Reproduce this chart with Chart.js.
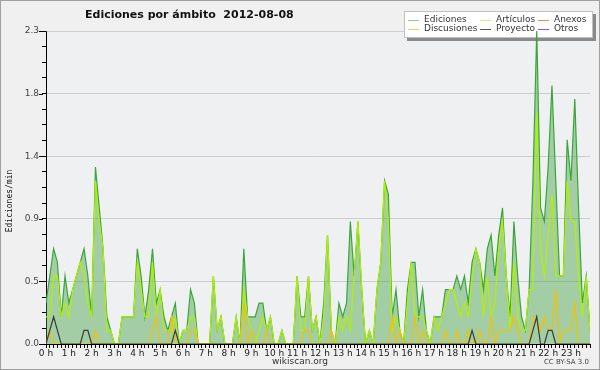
<!DOCTYPE html>
<html>
<head>
<meta charset="utf-8">
<script src="https://cdn.jsdelivr.net/npm/chart.js@4.4.0/dist/chart.umd.min.js"></script>
<style>
  html, body { margin: 0; padding: 0; background: #f0f0f0; }
  #wrap { width: 600px; height: 370px; }
</style>
</head>
<body>
<div id="wrap"><canvas id="chart" width="600" height="370"></canvas></div>
<script>
// edits per minute, one value per 10-minute slot (6 per hour)
const ediciones = [
  0.3,0.5,0.7,0.6,0.2,0.5,  0.3,0.4,0.5,0.6,0.7,0.5,  0.2,1.3,1.0,0.7,0.2,0.1,
  0,0,0.2,0.2,0.2,0.2,      0.7,0.5,0.2,0.4,0.7,0.3,  0.4,0.2,0.1,0.2,0.3,0,
  0.1,0.1,0.4,0.3,0,0,      0,0,0.5,0.1,0.2,0,        0,0,0.2,0,0.7,0.2,
  0.2,0.2,0.3,0.3,0.1,0.2,  0,0,0.1,0,0,0,            0.5,0.2,0.2,0.5,0.1,0.2,
  0,0.3,0.8,0.1,0,0.3,      0.2,0.3,0.9,0.5,0.9,0.4,  0,0.1,0,0.4,0.6,1.2,
  1.1,0.2,0.4,0.1,0,0.4,    0.6,0.6,0.2,0.4,0.1,0,    0.2,0.2,0.2,0.4,0.4,0.4,
  0.5,0.4,0.5,0.3,0.6,0.7,  0.6,0.4,0.7,0.8,0.5,0.8,  1.0,0.5,0.2,0.9,0.5,0.2,
  0.1,0.4,1.2,2.3,1.0,0.9,  1.3,1.9,1.2,0.5,0.5,1.5,  1.2,1.8,1.0,0.3,0.5,0.1
];
const articulos = [
  0.2,0.2,0.5,0.5,0.2,0.3,  0.2,0.4,0.5,0.6,0.5,0.3,  0.2,1.2,0.9,0.7,0.1,0.1,
  0,0,0.2,0.2,0.2,0.2,      0.6,0.4,0.2,0.2,0.6,0.2,  0.4,0.1,0.1,0.1,0.2,0,
  0.1,0.1,0.2,0.2,0,0,      0,0,0.5,0.1,0.2,0,        0,0,0.2,0,0.4,0.2,
  0.1,0,0.1,0.2,0.1,0.2,    0,0,0.1,0,0,0,            0.5,0.1,0.1,0.5,0.1,0.2,
  0,0.2,0.8,0.1,0,0.2,      0.1,0.2,0.1,0.5,0.9,0.4,  0,0.1,0,0.4,0.6,1.2,
  0.9,0.1,0.2,0.1,0,0.3,    0.6,0.2,0.2,0.2,0.1,0,    0.2,0.1,0.2,0.3,0.4,0.4,
  0.3,0.2,0.3,0.2,0.5,0.7,  0.6,0.2,0.5,0.2,0.3,0.7,  0.9,0.5,0.1,0.6,0.2,0.1,
  0.1,0.4,0.4,1.7,0.7,0.5,  0.8,1.1,0.5,0.5,0.5,1.2,  0.9,0.9,0.5,0.2,0.5,0.1
];
const discusiones = [
  0,0.1,0,0,0,0,            0,0,0,0,0,0,              0,0.1,0,0,0,0,
  0,0,0,0,0,0,              0,0,0,0,0.1,0.2,          0,0,0,0.2,0,0,
  0,0,0.1,0.1,0,0,          0,0,0,0,0,0,              0,0,0,0,0.3,0,
  0.1,0,0,0,0.1,0,          0,0,0,0,0,0,              0,0,0.1,0.1,0,0,
  0,0,0,0.1,0,0,            0,0,0,0,0,0,              0,0,0,0,0,0,
  0,0.2,0,0.1,0,0,          0,0.2,0,0.1,0,0,          0,0,0,0.1,0,0,
  0.1,0,0,0.1,0,0,          0.1,0,0,0.2,0,0.1,        0.1,0.1,0.1,0.2,0.1,0,
  0,0,0.2,0.2,0.1,0.2,      0.1,0.1,0.4,0,0.1,0.1,    0.1,0.3,0,0,0,0
];
const proyecto = [
  0,0.1,0.2,0.1,0,0,        0,0,0,0,0.1,0.1,          0,0,0,0,0,0,
  0,0,0,0,0,0,              0,0,0,0,0,0,              0,0,0,0,0.1,0,
  0,0,0,0,0,0,              0,0,0,0,0,0,              0,0,0,0,0,0,
  0,0,0,0,0,0,              0,0,0,0,0,0,              0,0,0,0,0,0,
  0,0,0,0,0,0,              0,0,0,0,0,0,              0,0,0,0,0,0,
  0,0,0,0,0,0,              0,0,0,0,0,0,              0,0,0,0,0,0,
  0,0,0,0,0.1,0,            0,0,0,0,0,0,              0,0,0,0,0,0,
  0,0,0.1,0.2,0,0,          0.1,0.1,0,0,0,0,          0,0,0,0,0,0
];
const anexos = [];  // nothing visible
const otros = [];   // nothing visible

const hourLabels = ['0 h','1 h','2 h','3 h','4 h','5 h','6 h','7 h','8 h','9 h','10 h','11 h',
  '12 h','13 h','14 h','15 h','16 h','17 h','18 h','19 h','20 h','21 h','22 h','23 h'];
const yTickLabels = ['0.0','0.5','0.9','1.4','1.8','2.3'];
const yMax = 2.3;

const slots = ediciones.map((_, i) => i);
const gridColor = 'rgba(140,140,140,0.35)';

// background, plot area, outer frame, texts
const frame = {
  id: 'frame',
  beforeDraw(chart) {
    const c = chart.ctx, a = chart.chartArea;
    c.save();
    c.fillStyle = '#f0f0f0';
    c.fillRect(0, 0, chart.width, chart.height);
    c.fillStyle = '#eef0f2';
    c.fillRect(a.left, a.top, a.right - a.left, a.bottom - a.top);
    c.restore();
  },
  afterDraw(chart) {
    const c = chart.ctx;
    const y = chart.scales.y;
    c.save();
    c.strokeStyle = '#a0a0a0';
    c.lineWidth = 1;
    c.strokeRect(0.5, 0.5, chart.width - 1, chart.height - 1);

    // longer marks for the labelled y ticks
    c.strokeStyle = '#000';
    y.ticks.forEach((t, i) => {
      if (i % 4 !== 0) return;
      const py = Math.round(y.getPixelForValue(t.value)) + 0.5;
      c.beginPath();
      c.moveTo(y.right - 7, py);
      c.lineTo(y.right - 3, py);
      c.stroke();
    });

    c.fillStyle = '#111';
    c.font = 'bold 11px "DejaVu Sans"';
    c.textBaseline = 'middle';
    c.textAlign = 'left';
    c.fillText('Ediciones por ámbito  2012-08-08', 85, 15);

    c.save();
    c.translate(10, 201);
    c.rotate(-Math.PI / 2);
    c.textAlign = 'center';
    c.font = '8px "DejaVu Sans Mono"';
    c.fillText('Ediciones/min', 0, 0);
    c.restore();

    c.font = '9px "DejaVu Sans"';
    c.fillStyle = '#333';
    c.textAlign = 'center';
    c.fillText('wikiscan.org', 300, 362);
    c.font = '7px "DejaVu Sans"';
    c.fillStyle = '#444';
    c.textAlign = 'right';
    c.fillText('CC BY-SA 3.0', 589, 362);
    c.restore();
  }
};

// top grid line + 3 x 2 legend box, drawn under the data lines
const legendBox = {
  id: 'legendBox',
  beforeDatasetsDraw(chart) {
    const c = chart.ctx, a = chart.chartArea;
    const ds = chart.data.datasets;
    const cols = [408, 480, 538];
    const rows = [19.5, 29];
    c.save();
    c.strokeStyle = gridColor;
    c.lineWidth = 1;
    c.beginPath();
    c.moveTo(a.left, a.top + 0.5);
    c.lineTo(a.right, a.top + 0.5);
    c.stroke();

    c.fillStyle = '#8a8a8a';
    c.fillRect(407, 14, 189, 27);
    c.fillStyle = '#ffffff';
    c.fillRect(404, 11, 189, 27);
    c.strokeStyle = '#c0c0c0';
    c.strokeRect(404.5, 11.5, 188, 26);
    c.font = '9px "DejaVu Sans"';
    c.textBaseline = 'middle';
    c.textAlign = 'left';
    ds.forEach((d, k) => {
      const x = cols[k % 3], y = rows[Math.floor(k / 3)];
      c.strokeStyle = d.legendColor;
      c.lineWidth = 1;
      c.beginPath();
      c.moveTo(x, Math.round(y) + 0.5);
      c.lineTo(x + 11, Math.round(y) + 0.5);
      c.stroke();
      c.fillStyle = '#333';
      c.fillText(d.label, x + 16, y);
    });
    c.restore();
  }
};

const line = (label, data, color, legendColor, order, extra) => Object.assign({
  label, data, borderColor: color, legendColor, order,
  borderWidth: 1.2, pointRadius: 0, tension: 0, fill: false
}, extra || {});

new Chart(document.getElementById('chart'), {
  type: 'line',
  data: {
    labels: slots,
    datasets: [
      line('Ediciones', ediciones, '#3ba53b', '#8fd08f', 6,
        { fill: 'origin', backgroundColor: 'rgba(60,160,60,0.42)' }),
      line('Artículos', articulos, '#b2f000', '#d4f27a', 5),
      line('Anexos', anexos, '#ff8040', '#f08a5a', 4),
      line('Discusiones', discusiones, '#f2c200', '#f2d25a', 3),
      line('Proyecto', proyecto, '#3a3a3a', '#555555', 2),
      line('Otros', otros, '#9933ff', '#9a4cf0', 1)
    ]
  },
  options: {
    responsive: false,
    devicePixelRatio: 1,
    animation: false,
    layout: { padding: { top: 31, right: 10, bottom: 0, left: 0 } },
    plugins: { legend: { display: false }, tooltip: { enabled: false } },
    scales: {
      x: {
        type: 'linear',
        min: 0,
        max: slots.length - 1,
        z: 1,
        afterFit(s) { s.height = 26; },
        afterBuildTicks(s) { s.ticks = slots.map(v => ({ value: v })); },
        border: { color: '#000', width: 1 },
        grid: { drawOnChartArea: false, tickLength: 4, tickColor: '#000' },
        ticks: {
          autoSkip: false,
          maxRotation: 0,
          padding: 0,
          color: '#222',
          font: { family: 'DejaVu Sans', size: 9 },
          callback: v => (v % 6 === 0 ? hourLabels[v / 6] : '')
        }
      },
      y: {
        min: 0,
        max: yMax,
        z: 1,
        afterFit(s) { s.width = 46; },
        afterBuildTicks(s) {
          const t = [];
          for (let k = 0; k <= 20; k++) t.push({ value: yMax * k / 20 });
          s.ticks = t;
        },
        border: { color: '#000', width: 1 },
        grid: {
          // top line is drawn under the legend by the legendBox plugin
          color: c => (c.index % 4 === 0 && c.index > 0 && c.index < 20 ? gridColor : 'rgba(0,0,0,0)'),
          tickColor: '#000',
          tickLength: 4
        },
        ticks: {
          padding: 3,
          color: '#444',
          font: { family: 'DejaVu Sans', size: 9 },
          callback: (v, i) => (i % 4 === 0 ? yTickLabels[i / 4] : '')
        }
      }
    }
  },
  plugins: [frame, legendBox]
});
</script>
</body>
</html>
